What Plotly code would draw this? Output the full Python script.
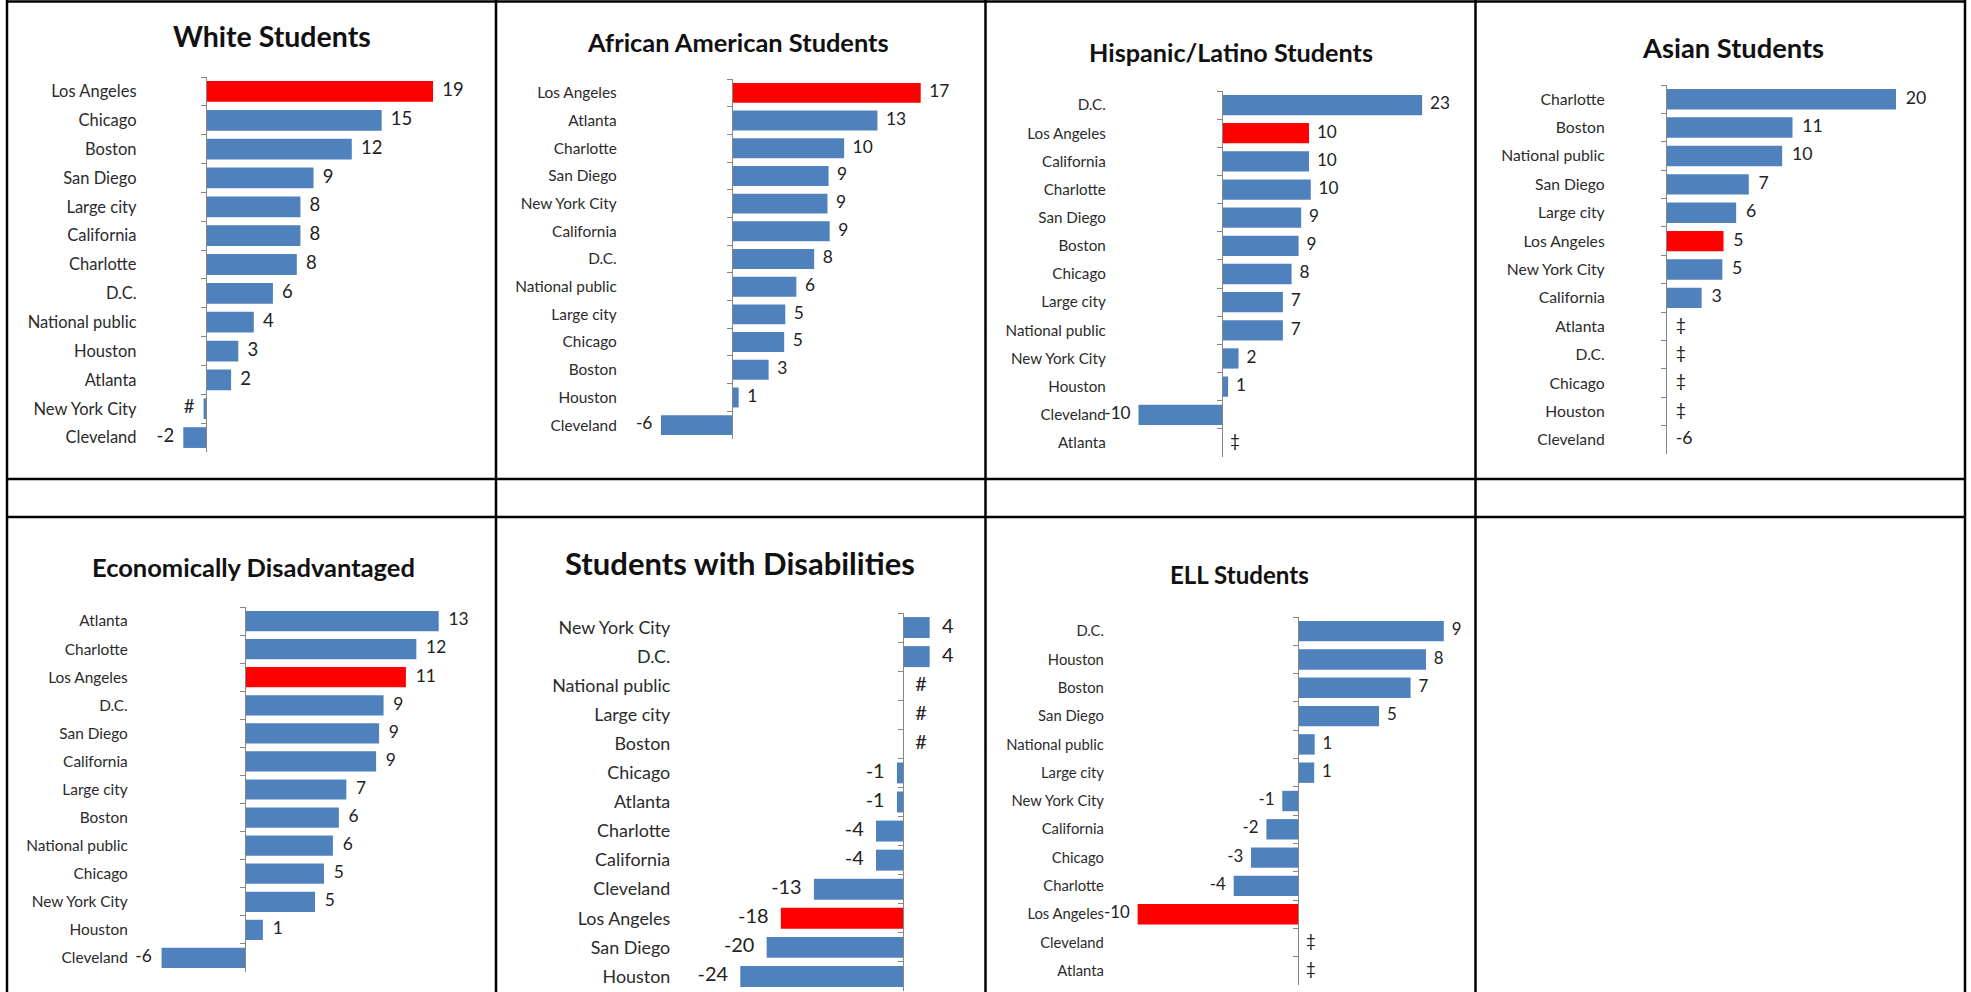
import plotly.graph_objects as go

W, H = 1971, 992

# ---------------- data ----------------
white_cats = ["Los Angeles", "Chicago", "Boston", "San Diego", "Large city", "California", "Charlotte",
              "D.C.", "National public", "Houston", "Atlanta", "New York City", "Cleveland"]
white_vals = [19, 14.7, 12.2, 9.0, 7.9, 7.9, 7.6, 5.6, 4.0, 2.7, 2.1, -0.2, -1.9]
white_labels = ["19", "15", "12", "9", "8", "8", "8", "6", "4", "3", "2", "#", "-2"]

afam_cats = ["Los Angeles", "Atlanta", "Charlotte", "San Diego", "New York City", "California", "D.C.",
             "National public", "Large city", "Chicago", "Boston", "Houston", "Cleveland"]
afam_vals = [17, 13.1, 10.1, 8.7, 8.6, 8.8, 7.4, 5.8, 4.8, 4.7, 3.3, 0.6, -6.4]
afam_labels = ["17", "13", "10", "9", "9", "9", "8", "6", "5", "5", "3", "1", "-6"]

hisp_cats = ["D.C.", "Los Angeles", "California", "Charlotte", "San Diego", "Boston", "Chicago",
             "Large city", "National public", "New York City", "Houston", "Cleveland", "Atlanta"]
hisp_vals = [23, 10.0, 10.0, 10.2, 9.1, 8.8, 8.0, 7.0, 7.0, 1.9, 0.7, -9.6, None]
hisp_labels = ["23", "10", "10", "10", "9", "9", "8", "7", "7", "2", "1", "-10", "‡"]

asian_cats = ["Charlotte", "Boston", "National public", "San Diego", "Large city", "Los Angeles",
              "New York City", "California", "Atlanta", "D.C.", "Chicago", "Houston", "Cleveland"]
asian_vals = [20, 11.0, 10.1, 7.2, 6.1, 5.0, 4.9, 3.1, None, None, None, None, None]
asian_labels = ["20", "11", "10", "7", "6", "5", "5", "3", "‡", "‡", "‡", "‡", "-6"]

econ_cats = ["Atlanta", "Charlotte", "Los Angeles", "D.C.", "San Diego", "California", "Large city",
             "Boston", "National public", "Chicago", "New York City", "Houston", "Cleveland"]
econ_vals = [13, 11.5, 10.8, 9.3, 9.0, 8.8, 6.8, 6.3, 5.9, 5.3, 4.7, 1.2, -5.6]
econ_labels = ["13", "12", "11", "9", "9", "9", "7", "6", "6", "5", "5", "1", "-6"]

swd_cats = ["New York City", "D.C.", "National public", "Large city", "Boston", "Chicago", "Atlanta",
            "Charlotte", "California", "Cleveland", "Los Angeles", "San Diego", "Houston"]
swd_vals = [3.95, 3.95, 0, 0, 0, -0.9, -0.9, -4.0, -4.0, -13.2, -18.1, -20.2, -24.1]
swd_labels = ["4", "4", "#", "#", "#", "-1", "-1", "-4", "-4", "-13", "-18", "-20", "-24"]

ell_cats = ["D.C.", "Houston", "Boston", "San Diego", "National public", "Large city", "New York City",
            "California", "Chicago", "Charlotte", "Los Angeles", "Cleveland", "Atlanta"]
ell_vals = [9, 7.9, 6.95, 5.0, 1.03, 1.0, -0.97, -1.95, -2.9, -3.97, -9.9, None, None]
ell_labels = ["9", "8", "7", "5", "1", "1", "-1", "-2", "-3", "-4", "-10", "‡", "‡"]

titles = ["White Students", "African American Students", "Hispanic/Latino Students", "Asian Students",
          "Economically Disadvantaged", "Students with Disabilities", "ELL Students"]
series = [
    (white_cats, white_vals, white_labels),
    (afam_cats, afam_vals, afam_labels),
    (hisp_cats, hisp_vals, hisp_labels),
    (asian_cats, asian_vals, asian_labels),
    (econ_cats, econ_vals, econ_labels),
    (swd_cats, swd_vals, swd_labels),
    (ell_cats, ell_vals, ell_labels),
]
HIGHLIGHT = "Los Angeles"

# ---------------- geometry (pixels) ----------------
# tx,ty: title centre; zero: x of zero line; scale: px per unit; top/bot: category band
# lab: right edge of category labels; right: plot right edge; fs: label font; tfs: title font
geom = [
    dict(tx=272, ty=36, zero=206, scale=11.95, top=77, bot=452, lab=136, right=488, fs=16.5, tfs=28.5, gap=13),
    dict(tx=738, ty=42, zero=732, scale=11.1, top=79, bot=439, lab=616, right=978, fs=15.4, tfs=25.4, gap=12),
    dict(tx=1231, ty=52, zero=1222, scale=8.7, top=91, bot=457, lab=1105, right=1468, fs=15.2, tfs=25.2, gap=11),
    dict(tx=1733, ty=48, zero=1666, scale=11.5, top=85, bot=454, lab=1604, right=1958, fs=15.7, tfs=27.3, gap=14),
    dict(tx=253, ty=567, zero=245, scale=14.9, top=607, bot=972, lab=127, right=488, fs=15.4, tfs=25.5, gap=14),
    dict(tx=740, ty=563, zero=903, scale=6.75, top=613, bot=991, lab=670, right=978, fs=17.9, tfs=31, gap=18),
    dict(tx=1239, ty=574, zero=1298, scale=16.2, top=617, bot=985, lab=1103, right=1468, fs=14.8, tfs=24.1, gap=11),
]

BLUE = "#4F81BD"
RED = "#FF0000"
AXIS_GRAY = "#868686"
FONT = "Lato"

fig = go.Figure()
layout = dict(
    width=W, height=H,
    margin=dict(l=0, r=0, t=0, b=0),
    paper_bgcolor="white", plot_bgcolor="rgba(0,0,0,0)",
    showlegend=False,
    annotations=[], shapes=[],
)

for i, ((cats, vals, labels), g, title) in enumerate(zip(series, geom, titles), start=1):
    n = len(cats)
    xa, ya = f"x{i}", f"y{i}"
    dl = g["lab"] + 4
    dr = g["right"]
    colors = [RED if c == HIGHLIGHT else BLUE for c in cats]
    fig.add_trace(go.Bar(
        x=vals, y=cats, orientation="h", marker=dict(color=colors, line=dict(width=0)),
        width=0.72, xaxis=xa, yaxis=ya, hoverinfo="skip",
    ))
    fig.add_trace(go.Scatter(
        x=[v if v is not None else 0 for v in vals], y=cats, mode="markers+text",
        marker=dict(size=g["gap"], color="rgba(0,0,0,0)"),
        text=labels,
        textposition=["middle left" if (v is not None and v < 0) else "middle right" for v in vals],
        textfont=dict(family=FONT, size=g["fs"] + 2, color="#222222"),
        cliponaxis=False, xaxis=xa, yaxis=ya, hoverinfo="skip",
    ))
    layout[f"xaxis{i}"] = dict(
        domain=[dl / W, dr / W],
        range=[(dl - g["zero"]) / g["scale"], (dr - g["zero"]) / g["scale"]],
        anchor=ya, visible=False, fixedrange=True,
    )
    layout[f"yaxis{i}"] = dict(
        type="category", categoryorder="array", categoryarray=cats,
        range=[n - 0.5, -0.5],
        domain=[1 - g["bot"] / H, 1 - g["top"] / H],
        anchor="free", position=g["zero"] / W,
        showline=True, linecolor=AXIS_GRAY, linewidth=1.3,
        ticks="outside", ticklen=5, tickwidth=1.3, tickcolor=AXIS_GRAY, tickson="boundaries",
        ticklabelstandoff=max(0, g["zero"] - g["lab"] - 4),
        tickfont=dict(family=FONT, size=g["fs"], color="#2b2b2b"),
        showgrid=False, zeroline=False, fixedrange=True, automargin=False,
    )
    layout["annotations"].append(dict(
        text=f"<b>{title}</b>", xref="paper", yref="paper",
        x=g["tx"] / W, y=1 - g["ty"] / H, xanchor="center", yanchor="middle",
        showarrow=False, font=dict(family=FONT, size=g["tfs"], color="#111111"),
    ))

# table grid
vlines = [7, 496, 985.5, 1475.5, 1965]
hlines = [1.5, 479, 517]
for xv in vlines:
    layout["shapes"].append(dict(type="line", xref="paper", yref="paper",
                                 x0=xv / W, x1=xv / W, y0=0, y1=1,
                                 line=dict(color="black", width=2.5)))
for yv in hlines:
    layout["shapes"].append(dict(type="line", xref="paper", yref="paper",
                                 x0=vlines[0] / W, x1=vlines[-1] / W, y0=1 - yv / H, y1=1 - yv / H,
                                 line=dict(color="black", width=2.5)))

fig.update_layout(**layout)
fig.write_html(
    "out.html",
    config={"displayModeBar": False},
    post_script="document.body.style.margin='0px';document.body.style.padding='0px';"
                "document.body.style.overflow='hidden';",
)
